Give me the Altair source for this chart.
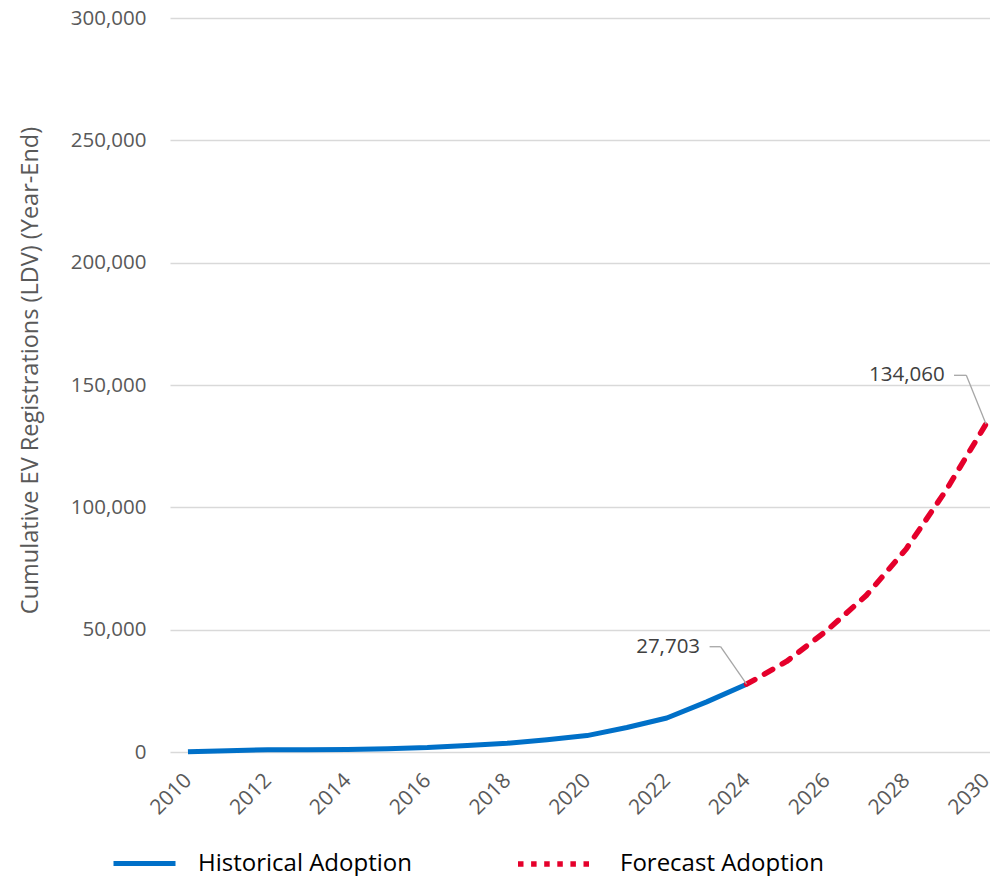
import altair as alt
import pandas as pd

# ---- data ----
hist_years = [2010, 2011, 2012, 2013, 2014, 2015, 2016, 2017, 2018, 2019, 2020, 2021, 2022, 2023, 2024]
hist_values = [100, 500, 950, 900, 1050, 1300, 1800, 2700, 3550, 5000, 6700, 10000, 13900, 20500, 27703]

fc_years = [2024, 2025, 2026, 2027, 2028, 2029, 2030]
fc_values = [27703, 37000, 49500, 64000, 83000, 107000, 134060]

series_names = ["Historical Adoption", "Forecast Adoption"]
series_colors = ["#0070C8", "#E5002B"]

x_tick_years = [2010, 2012, 2014, 2016, 2018, 2020, 2022, 2024, 2026, 2028, 2030]
y_tick_values = [0, 50000, 100000, 150000, 200000, 250000, 300000]

ann_years = [2024, 2030]
ann_values = [27703, 134060]
ann_labels = ["27,703", "134,060"]

y_title = "Cumulative EV Registrations (LDV) (Year-End)"

FONT = "Open Sans"

hist_df = pd.DataFrame({"Year": hist_years, "Value": hist_values, "Series": series_names[0]})
fc_df = pd.DataFrame({"Year": fc_years, "Value": fc_values, "Series": series_names[1]})
# one-point frame: a line through a single point draws nothing, it only carries the forecast legend
fc_key_df = fc_df.tail(1)
ann_df = pd.DataFrame({"Year": ann_years, "Value": ann_values, "Label": ann_labels})

x_enc = alt.X(
    "Year:Q",
    scale=alt.Scale(domain=[2009.55, 2030.1], nice=False, zero=False),
    axis=alt.Axis(
        values=x_tick_years, format="d", labelAngle=-45, labelAlign="right",
        labelBaseline="middle", grid=False, ticks=False, domain=False, title=None,
        labelPadding=25, labelOffset=0, labelFontSize=21,
    ),
)
y_enc = alt.Y(
    "Value:Q",
    scale=alt.Scale(domain=[0, 300000], nice=False),
    axis=alt.Axis(
        values=y_tick_values, format=",.0f", grid=True, gridColor="#D9D9D9", gridWidth=1.5,
        ticks=False, domain=False, labelPadding=24, title=y_title,
        titleX=-140, titleY=352, titleAngle=270, titleAlign="center", titleBaseline="middle",
        titleFontSize=23.5,
    ),
)

legend_common = dict(
    orient="none", direction="horizontal", title=None,
    symbolType="stroke",
    labelFont=FONT, labelFontSize=24, labelColor="#000000", labelLimit=500,
)

hist_line = alt.Chart(hist_df).mark_line(strokeWidth=5, strokeJoin="round").encode(
    x=x_enc, y=y_enc,
    color=alt.Color(
        "Series:N",
        scale=alt.Scale(domain=[series_names[0]], range=[series_colors[0]]),
        legend=alt.Legend(legendX=-59, legendY=812, symbolSize=3844, symbolStrokeWidth=5,
                          labelOffset=20, **legend_common),
    ),
)
fc_line = alt.Chart(fc_df).mark_line(
    strokeWidth=5.5, strokeDash=[9.5, 11], strokeCap="round", strokeJoin="round",
    color=series_colors[1],
).encode(x="Year:Q", y="Value:Q")

fc_key = alt.Chart(fc_key_df).mark_line(strokeWidth=5.5, strokeDash=[5.5, 7.6]).encode(
    x="Year:Q", y="Value:Q",
    stroke=alt.Stroke(
        "Series:N",
        scale=alt.Scale(domain=[series_names[1]], range=[series_colors[1]]),
        legend=alt.Legend(legendX=345, legendY=807.5, symbolSize=5041, symbolStrokeWidth=5.5,
                          symbolDash=[5.5, 7.6], labelOffset=28, **legend_common),
    ),
)

# annotation leaders and labels, offsets in pixels per annotation
ann_offsets = [
    {"ex": -26, "ey": -37.5, "hx": -37, "tx": -46.5},
    {"ex": -19.7, "ey": -48.7, "hx": -32, "tx": -41.3},
]
ann_layers = []
for i, off in enumerate(ann_offsets):
    base = alt.Chart(ann_df).transform_filter(alt.datum.Label == ann_labels[i])
    diag = base.mark_rule(color="#A6A6A6", strokeWidth=1.3, x2Offset=off["ex"], y2Offset=off["ey"]).encode(
        x="Year:Q", y="Value:Q", x2="Year:Q", y2="Value:Q"
    )
    horiz = base.mark_rule(
        color="#A6A6A6", strokeWidth=1.3, xOffset=off["ex"], yOffset=off["ey"],
        x2Offset=off["hx"], y2Offset=off["ey"],
    ).encode(x="Year:Q", y="Value:Q", x2="Year:Q", y2="Value:Q")
    txt = base.mark_text(
        align="right", baseline="middle", dx=off["tx"], dy=off["ey"], font=FONT, fontSize=20.5,
        color="#404040",
    ).encode(x="Year:Q", y="Value:Q", text="Label:N")
    ann_layers += [diag, horiz, txt]

chart = alt.layer(hist_line, fc_line, fc_key, *ann_layers).properties(
    width=820,
    height=734,
    padding={"left": 162, "top": 10, "right": 0, "bottom": 124},
    autosize=alt.AutoSizeParams(type="none"),
    background="white",
).resolve_legend(color="independent", stroke="independent").configure_view(stroke=None).configure_axis(
    labelFont=FONT, labelFontSize=20.5, labelColor="#595959",
    titleFont=FONT, titleColor="#595959", titleFontWeight="normal",
)

chart.save("out.html", embed_options={"renderer": "svg", "actions": False})
